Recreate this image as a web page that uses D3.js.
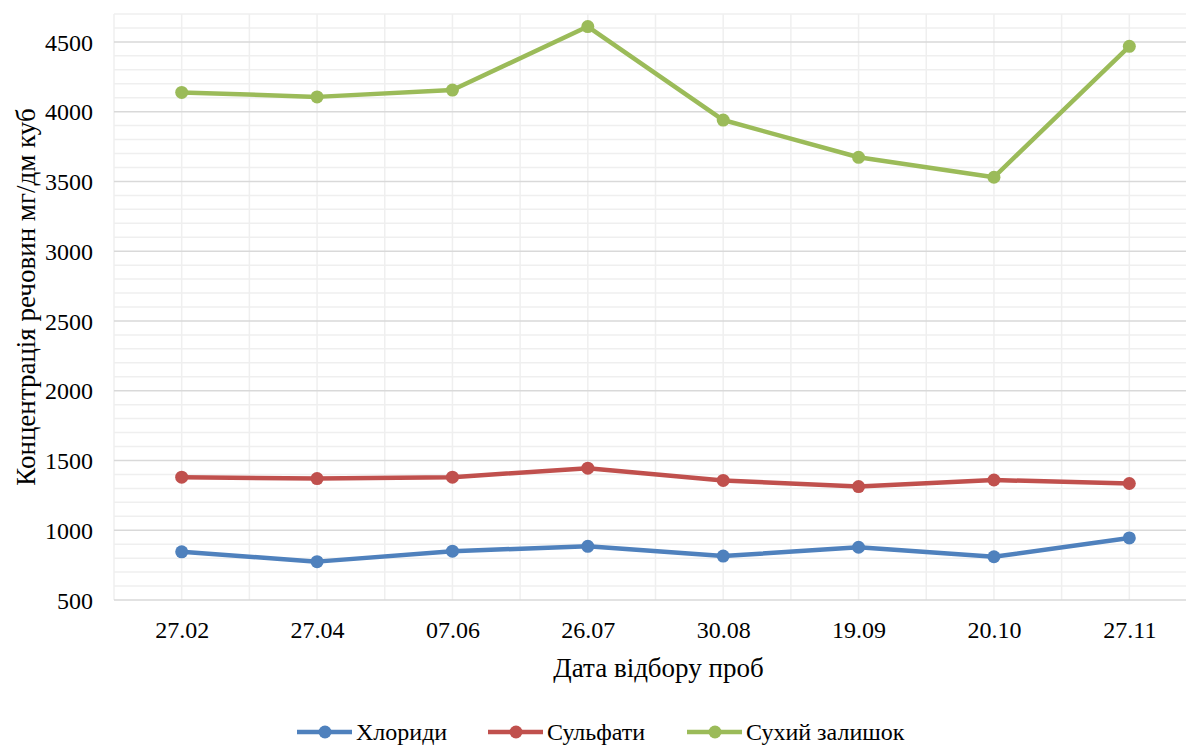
<!DOCTYPE html>
<html>
<head>
<meta charset="utf-8">
<script src="https://cdn.jsdelivr.net/npm/d3@7"></script>
<style>
  html, body { margin: 0; padding: 0; background: #fff; overflow: hidden; }
</style>
</head>
<body>
<svg id="chart" width="1186" height="749"></svg>
<script>
// Sampling dates
const dates = ["27.02", "27.04", "07.06", "26.07", "30.08", "19.09", "20.10", "27.11"];
// Concentrations, mg/dm³
const chlorides = [845, 775, 850, 885, 815, 878, 810, 945];
const sulfates = [1380, 1370, 1380, 1445, 1357, 1313, 1360, 1335];
const dryResidue = [4138, 4106, 4155, 4610, 3940, 3673, 3530, 4468];
const yTicks = [500, 1000, 1500, 2000, 2500, 3000, 3500, 4000, 4500];

const seriesNames = ["Хлориди", "Сульфати", "Сухий залишок"];
const seriesColors = ["#4f81bd", "#c0504d", "#9bbb59"];
const seriesValues = [chlorides, sulfates, dryResidue];

const FONT = '"Liberation Serif"';
const svg = d3.select("#chart");
const plotL = 114, plotR = 1197, plotT = 14, plotB = 600;

const x = d3.scalePoint().domain(dates).range([plotL, plotR]).padding(0.5);
const step = x.step();
const y = d3.scaleLinear().domain([500, 4700]).range([plotB, plotT]);

const grid = svg.append("g");
// minor horizontal grid every 100
d3.range(600, 4701, 100).filter(v => v % 500 !== 0).forEach(v => {
  grid.append("line").attr("x1", plotL).attr("x2", plotR)
    .attr("y1", y(v)).attr("y2", y(v))
    .attr("stroke", "#efefef").attr("stroke-width", 1.5);
});
// vertical grid: at category centres and boundaries
const vx = [];
dates.forEach(d => { vx.push(x(d) - step / 2); vx.push(x(d)); });
vx.push(x(dates[dates.length - 1]) + step / 2);
vx.forEach(px => {
  grid.append("line").attr("x1", px).attr("x2", px)
    .attr("y1", plotT).attr("y2", plotB)
    .attr("stroke", "#efefef").attr("stroke-width", 1.5);
});
// major horizontal grid
yTicks.forEach(v => {
  grid.append("line").attr("x1", plotL).attr("x2", plotR)
    .attr("y1", y(v)).attr("y2", y(v))
    .attr("stroke", "#d9d9d9").attr("stroke-width", 1.5);
});

// y axis labels
const yAxis = d3.axisLeft(y).tickValues(yTicks).tickFormat(d3.format("d"))
  .tickSize(0).tickPadding(21);
const yg = svg.append("g").attr("transform", `translate(${plotL},0)`)
  .call(yAxis).attr("font-family", null).attr("font-size", null);
yg.select(".domain").remove();
yg.selectAll("text").style("font-family", FONT).style("font-size", "24px")
  .attr("fill", "#000").attr("dy", "0.34em");

// x axis labels
const xAxis = d3.axisBottom(x).tickSize(0);
const xg = svg.append("g").attr("transform", `translate(0,${plotB})`)
  .call(xAxis).attr("font-family", null).attr("font-size", null);
xg.select(".domain").remove();
xg.selectAll("text").style("font-family", FONT).style("font-size", "24px")
  .attr("fill", "#000").attr("y", 37.5).attr("dy", null);

// axis titles
svg.append("text").attr("x", x("26.07") + step / 2 + 3).attr("y", 677)
  .attr("text-anchor", "middle").style("font-family", FONT).style("font-size", "27px")
  .attr("fill", "#000").text("Дата відбору проб");
svg.append("text").attr("transform", "translate(35,297) rotate(-90)")
  .attr("text-anchor", "middle").style("font-family", FONT).style("font-size", "27px")
  .attr("fill", "#000").text("Концентрація речовин мг/дм куб");

// series lines and markers
const line = d3.line().x((d, i) => x(dates[i])).y(d => y(d));
seriesValues.forEach((vals, k) => {
  svg.append("path").datum(vals).attr("d", line)
    .attr("fill", "none").attr("stroke", seriesColors[k])
    .attr("stroke-width", 4.5).attr("stroke-linejoin", "round");
  svg.append("g").selectAll("circle").data(vals).join("circle")
    .attr("cx", (d, i) => x(dates[i])).attr("cy", d => y(d))
    .attr("r", 6.5).attr("fill", seriesColors[k]);
});

// legend
const legendX = [297, 488, 687];
seriesNames.forEach((name, k) => {
  const g = svg.append("g").attr("transform", `translate(${legendX[k]},732)`);
  g.append("line").attr("x1", 0).attr("x2", 55).attr("y1", 0).attr("y2", 0)
    .attr("stroke", seriesColors[k]).attr("stroke-width", 4.5);
  g.append("circle").attr("cx", 28).attr("cy", 0).attr("r", 6.5).attr("fill", seriesColors[k]);
  g.append("text").attr("x", 59).attr("y", 8).style("font-family", FONT)
    .style("font-size", "24px").attr("fill", "#000").text(name);
});
</script>
</body>
</html>
